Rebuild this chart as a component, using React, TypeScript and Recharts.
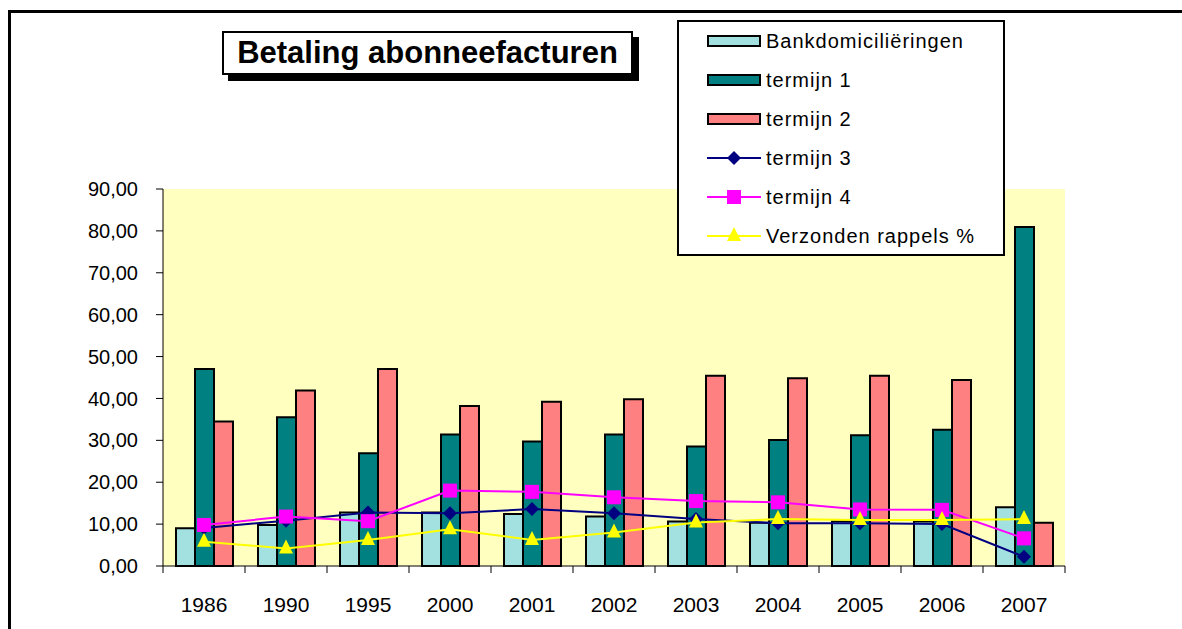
import { ComposedChart, Bar, Line, XAxis, YAxis, CartesianGrid, Legend } from "recharts"

// values
const years = ["1986", "1990", "1995", "2000", "2001", "2002", "2003", "2004", "2005", "2006", "2007"]
const bankdomicilieringen = [9.0, 9.8, 12.8, 12.8, 12.4, 11.8, 10.6, 10.3, 10.6, 10.6, 14.0]
const termijn1 = [47.0, 35.5, 26.9, 31.4, 29.7, 31.4, 28.5, 30.1, 31.2, 32.5, 80.9]
const termijn2 = [34.5, 41.9, 47.0, 38.2, 39.2, 39.8, 45.4, 44.8, 45.4, 44.4, 10.3]
const termijn3 = [9.1, 10.8, 12.8, 12.6, 13.6, 12.6, 11.2, 10.2, 10.2, 10.0, 2.2]
const termijn4 = [9.8, 11.8, 10.7, 18.0, 17.7, 16.4, 15.5, 15.2, 13.5, 13.4, 6.6]
const rappels = [5.8, 4.2, 6.2, 8.8, 6.2, 8.0, 10.4, 11.2, 11.0, 11.0, 11.2]
const yTicks = [0, 10, 20, 30, 40, 50, 60, 70, 80, 90]

const data = years.map((year, i) => ({
  year,
  bank: bankdomicilieringen[i],
  t1: termijn1[i],
  t2: termijn2[i],
  t3: termijn3[i],
  t4: termijn4[i],
  rappels: rappels[i],
}))

const FONT = "'Liberation Sans', Arial, sans-serif"
const W = 1182
const H = 629
const PLOT_LEFT = 163
const PLOT_RIGHT = 1065
const band = (PLOT_RIGHT - PLOT_LEFT) / years.length

const legendItems = [
  { label: "Bankdomiciliëringen", kind: "bar", color: "#A3E0E0" },
  { label: "termijn 1", kind: "bar", color: "#008080" },
  { label: "termijn 2", kind: "bar", color: "#FF8080" },
  { label: "termijn 3", kind: "diamond", color: "#000080" },
  { label: "termijn 4", kind: "square", color: "#FF00FF" },
  { label: "Verzonden rappels %", kind: "triangle", color: "#FFFF00" },
]

function Marker({ kind, cx, cy, color }: { kind: string; cx: number; cy: number; color: string }) {
  if (kind === "diamond")
    return <polygon points={`${cx},${cy - 7} ${cx + 7},${cy} ${cx},${cy + 7} ${cx - 7},${cy}`} fill={color} />
  if (kind === "square") return <rect x={cx - 7} y={cy - 7} width={14} height={14} fill={color} />
  return <polygon points={`${cx},${cy - 9} ${cx + 7},${cy + 5} ${cx - 7},${cy + 5}`} fill={color} />
}

const dot = (kind: string, color: string) => (props: any) =>
  <Marker key={`${kind}-${props.index}`} kind={kind} cx={props.cx} cy={props.cy} color={color} />

function YearTick({ x, y, payload, index }: any) {
  return (
    <g>
      {index === 0 && <line x1={x - band / 2} y1={y} x2={x - band / 2} y2={y + 7} stroke="#000" />}
      <line x1={x + band / 2} y1={y} x2={x + band / 2} y2={y + 7} stroke="#000" />
      <text x={x} y={y + 46} textAnchor="middle" fontSize={21} fontFamily={FONT} fill="#000">
        {payload.value}
      </text>
    </g>
  )
}

function LegendBox() {
  return (
    <div
      style={{
        width: 324,
        height: 232,
        border: "2px solid #000",
        background: "#fff",
        fontFamily: FONT,
        fontSize: 20,
        boxSizing: "content-box",
      }}
    >
      {legendItems.map((item, i) => (
        <div key={item.label} style={{ position: "absolute", left: 30, top: 8 + i * 39, height: 26, display: "flex", alignItems: "center" }}>
          <svg width={54} height={20} style={{ marginRight: 5 }}>
            {item.kind === "bar" ? (
              <rect x={1} y={5} width={52} height={10} fill={item.color} stroke="#000" strokeWidth={2} />
            ) : (
              <g>
                <line x1={0} y1={10} x2={54} y2={10} stroke={item.color} strokeWidth={2} />
                <Marker kind={item.kind} cx={27} cy={10} color={item.color} />
              </g>
            )}
          </svg>
          <span style={{ color: "#000", letterSpacing: 1 }}>{item.label}</span>
        </div>
      ))}
    </div>
  )
}

export default function App() {
  return (
    <div style={{ position: "absolute", left: 0, top: 0, width: W, height: H, background: "#fff", overflow: "hidden" }}>
      <div style={{ position: "absolute", left: 8, top: 10, width: W, height: H, borderTop: "3px solid #000", borderLeft: "3px solid #000" }} />
      <ComposedChart
        width={W}
        height={H}
        data={data}
        margin={{ top: 189, right: W - PLOT_RIGHT, bottom: 0, left: 0 }}
        barCategoryGap={13}
        barGap={0}
      >
        <CartesianGrid horizontal={false} vertical={false} fill="#FFFFC0" stroke="none" />
        <XAxis
          dataKey="year"
          height={63}
          tickSize={0}
          tickMargin={0}
          tickLine={false}
          axisLine={{ stroke: "#000" }}
          tick={<YearTick />}
          interval={0}
        />
        <YAxis
          width={PLOT_LEFT}
          domain={[0, 90]}
          ticks={yTicks}
          tickSize={7}
          tickMargin={18}
          axisLine={{ stroke: "#000" }}
          tickLine={{ stroke: "#000" }}
          tick={{ fill: "#000", fontSize: 20, fontFamily: FONT }}
          tickFormatter={(v: number) => v.toFixed(2).replace(".", ",")}
        />
        <Legend
          layout="vertical"
          align="center"
          verticalAlign="middle"
          content={<LegendBox />}
          wrapperStyle={{ position: "absolute", left: 677, top: 20, width: 328, height: 236 }}
        />
        <Bar dataKey="bank" name="Bankdomiciliëringen" fill="#A3E0E0" stroke="#000" strokeWidth={2} isAnimationActive={false} />
        <Bar dataKey="t1" name="termijn 1" fill="#008080" stroke="#000" strokeWidth={2} isAnimationActive={false} />
        <Bar dataKey="t2" name="termijn 2" fill="#FF8080" stroke="#000" strokeWidth={2} isAnimationActive={false} />
        <Line dataKey="t3" name="termijn 3" stroke="#000080" strokeWidth={2} dot={dot("diamond", "#000080")} activeDot={false} isAnimationActive={false} />
        <Line dataKey="t4" name="termijn 4" stroke="#FF00FF" strokeWidth={2} dot={dot("square", "#FF00FF")} activeDot={false} isAnimationActive={false} />
        <Line dataKey="rappels" name="Verzonden rappels %" stroke="#FFFF00" strokeWidth={2} dot={dot("triangle", "#FFFF00")} activeDot={false} isAnimationActive={false} />
      </ComposedChart>
      <div
        style={{
          position: "absolute",
          left: 222,
          top: 31,
          width: 407,
          height: 40,
          border: "2px solid #000",
          background: "#fff",
          boxShadow: "6px 6px 0 #000",
          fontFamily: FONT,
          fontWeight: "bold",
          fontSize: 31,
          lineHeight: "40px",
          textAlign: "center",
          color: "#000",
        }}
      >
        Betaling abonneefacturen
      </div>
    </div>
  )
}
